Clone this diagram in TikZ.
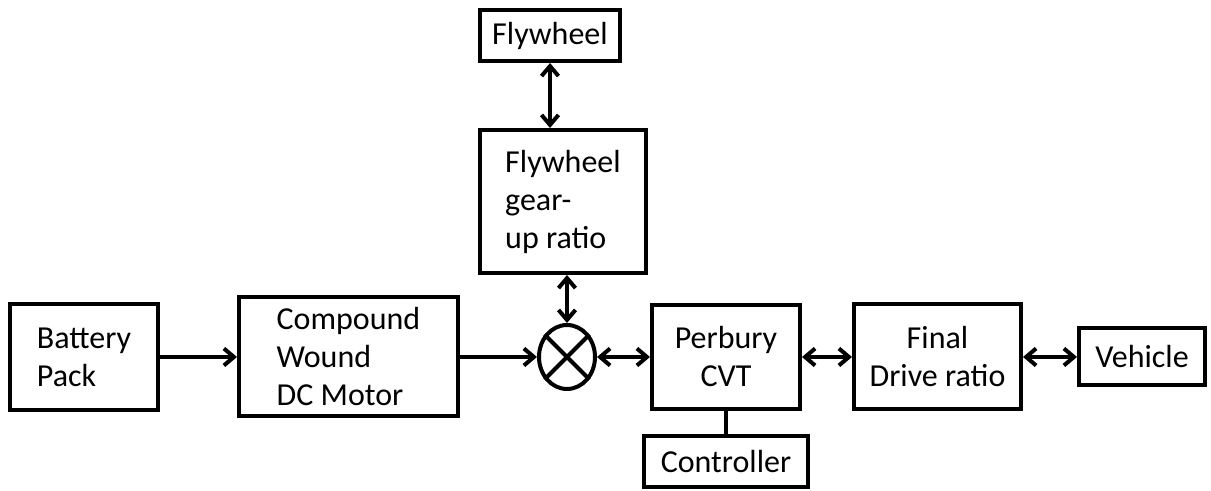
\documentclass[tikz,border=0pt]{standalone}
\usepackage{fontspec}
\setmainfont{Carlito}
\usetikzlibrary{positioning, arrows.meta, shapes.geometric}

\begin{document}
\begin{tikzpicture}[font=\fontsize{16}{19}\selectfont,line width=2pt,
  >={Straight Barb[length=5pt,width=8.5pt]},
  b/.style={draw,align=left,inner sep=2pt},
  sj/.style={draw,ellipse,minimum width=28pt,minimum height=32pt,inner sep=0pt}]
  \useasboundingbox (-42pt,-67pt) rectangle (563.5pt,178.5pt);
  \node[b,minimum width=74pt,minimum height=53pt](bat){Battery\\ Pack};
  \node[b,minimum width=109.5pt,minimum height=59.5pt,right=38.5pt of bat](mot){Compound\\ Wound\\ DC Motor};
  \node[sj,right=38.5pt of mot](sum){};
  \node[b,align=center,minimum width=74pt,minimum height=52pt,right=26.5pt of sum](cvt){Perbury\\ CVT};
  \node[b,align=center,minimum width=83.5pt,minimum height=52.5pt,right=25pt of cvt](fin){Final\\ Drive ratio};
  \node[b,minimum width=63pt,minimum height=28.5pt,right=27pt of fin](veh){Vehicle};
  \node[b,minimum width=83pt,minimum height=71.5pt,above=24pt of sum,xshift=-2pt](gear){Flywheel\\ gear-\\ up ratio};
  \node[b,minimum width=70pt,minimum height=25.5pt,above=32.5pt of gear,xshift=-6.5pt](fly){Flywheel};
  \node[b,minimum width=82pt,minimum height=25.5pt,below=11.5pt of cvt](ctl){Controller};
  \draw (sum.45)--(sum.225) (sum.135)--(sum.315);
  \draw[->](bat)--(mot);\draw[->](mot)--(sum);
  \draw[<->](sum)--(cvt);\draw[<->](cvt)--(fin);\draw[<->](fin)--(veh);
  \draw[<->](sum.north |- gear.south)--(sum.north);
  \draw[<->](fly.south)--(fly.south |- gear.north);
  \draw(cvt)--(ctl);
\end{tikzpicture}
\end{document}
